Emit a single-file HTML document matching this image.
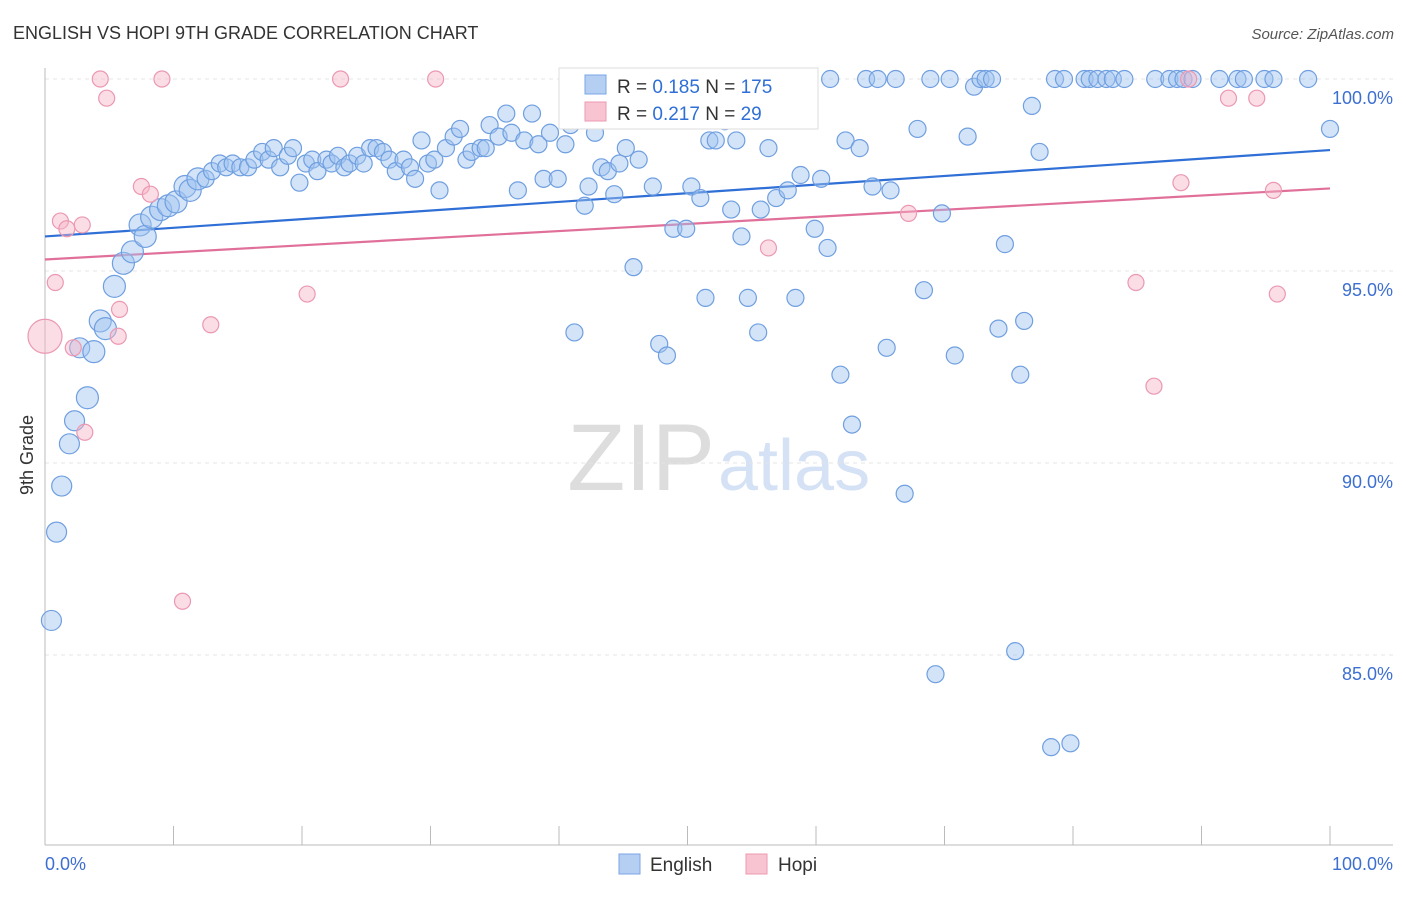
<!DOCTYPE html>
<html><head><meta charset="utf-8"><style>
body{margin:0;background:#fff;font-family:"Liberation Sans",sans-serif;}
svg text{font-family:"Liberation Sans",sans-serif;}
</style></head><body>
<svg id="chart" width="1406" height="892" xmlns="http://www.w3.org/2000/svg">
<text x="13" y="39" font-size="18" fill="#333">ENGLISH VS HOPI 9TH GRADE CORRELATION CHART</text>
<text x="1394" y="39" font-size="15" fill="#555" text-anchor="end" font-style="italic">Source: ZipAtlas.com</text>
<text x="715" y="490" font-size="95" fill="#ddd" text-anchor="end" font-family="Liberation Serif">ZIP</text>
<text x="718" y="490" font-size="72" fill="#d5e2f5">atlas</text>
<g id="grid"></g><g id="axes"></g><g id="lines"></g><g id="pts"></g>
<text transform="translate(33,455) rotate(-90)" font-size="18" fill="#333" text-anchor="middle">9th Grade</text>
<g>
<rect x="559" y="68" width="259" height="61" fill="#fff" stroke="#ddd"/>
<rect x="585" y="75" width="21" height="19" fill="#b5cff3" stroke="#7aa6e4"/>
<text x="617" y="93" font-size="19" fill="#333">R = <tspan fill="#2f6fd6">0.185</tspan>   N = <tspan fill="#2f6fd6">175</tspan></text>
<rect x="585" y="102" width="21" height="19" fill="#f8c4d2" stroke="#eb98b2"/>
<text x="617" y="120" font-size="19" fill="#333">R = <tspan fill="#2f6fd6">0.217</tspan>   N =   <tspan fill="#2f6fd6">29</tspan></text>
</g>
<g>
<rect x="619" y="854" width="21" height="20" fill="#b5cff3" stroke="#7aa6e4"/>
<text x="650" y="871" font-size="19" fill="#333">English</text>
<rect x="746" y="854" width="21" height="20" fill="#f8c4d2" stroke="#eb98b2"/>
<text x="778" y="871" font-size="19" fill="#333">Hopi</text>
</g>
</svg>
<script>
const yTicks=[100,95,90,85];
const yTickLabels=["100.0%","95.0%","90.0%","85.0%"];
const xTickLabels=["0.0%","100.0%"];
const blueX=[0.5,0.9,1.3,1.9,2.3,3.3,2.7,3.8,4.3,4.7,5.4,6.1,6.8,7.4,7.8,8.3,9.0,9.6,10.2,10.9,11.3,11.9,12.5,13.0,13.6,14.1,14.6,15.2,15.8,16.3,16.9,17.4,17.8,18.3,18.9,19.3,19.8,20.3,20.8,21.2,21.9,22.3,22.8,23.3,23.7,24.3,24.8,25.3,25.8,26.3,26.8,27.3,27.9,28.4,28.8,29.3,29.8,30.3,30.7,31.2,31.8,32.3,32.8,33.2,33.9,34.3,34.6,35.3,35.9,36.3,36.8,37.3,37.9,38.4,38.8,39.3,39.9,40.5,40.9,41.2,42.0,42.3,42.8,43.3,43.8,44.3,44.7,45.2,45.8,46.2,46.8,47.3,47.8,48.4,48.9,49.9,50.3,51.0,51.4,51.7,52.2,52.9,53.4,53.8,54.2,54.7,55.1,55.5,55.7,56.3,56.9,57.8,58.4,58.8,59.2,59.9,60.4,60.9,61.1,61.9,62.3,62.8,63.4,63.9,64.4,64.8,65.5,65.8,66.2,66.9,67.9,68.4,68.9,69.3,69.8,70.4,70.8,71.8,72.3,72.8,73.2,73.7,74.2,74.7,75.5,75.9,76.2,76.8,77.4,78.3,78.6,79.3,79.8,80.9,81.3,81.9,82.6,83.1,84.0,86.4,87.5,88.1,88.6,89.3,91.4,92.8,93.3,94.9,95.6,98.3,100];
const blueY=[85.9,88.2,89.4,90.5,91.1,91.7,93.0,92.9,93.7,93.5,94.6,95.2,95.5,96.2,95.9,96.4,96.6,96.7,96.8,97.2,97.1,97.4,97.4,97.6,97.8,97.7,97.8,97.7,97.7,97.9,98.1,97.9,98.2,97.7,98.0,98.2,97.3,97.8,97.9,97.6,97.9,97.8,98.0,97.7,97.8,98.0,97.8,98.2,98.2,98.1,97.9,97.6,97.9,97.7,97.4,98.4,97.8,97.9,97.1,98.2,98.5,98.7,97.9,98.1,98.2,98.2,98.8,98.5,99.1,98.6,97.1,98.4,99.1,98.3,97.4,98.6,97.4,98.3,98.8,93.4,96.7,97.2,98.6,97.7,97.6,97.0,97.8,98.2,95.1,97.9,99.5,97.2,93.1,92.8,96.1,96.1,97.2,96.9,94.3,98.4,98.4,98.9,96.6,98.4,95.9,94.3,99.7,93.4,96.6,98.2,96.9,97.1,94.3,97.5,99.8,96.1,97.4,95.6,100,92.3,98.4,91.0,98.2,100,97.2,100,93.0,97.1,100,89.2,98.7,94.5,100,84.5,96.5,100,92.8,98.5,99.8,100,100,100,93.5,95.7,85.1,92.3,93.7,99.3,98.1,82.6,100,100,82.7,100,100,100,100,100,100,100,100,100,100,100,100,100,100,100,100,100,98.7];
const pinkX=[0,0.8,1.2,1.7,2.2,2.9,3.1,4.3,4.8,5.8,5.7,7.5,8.2,9.1,10.7,12.9,20.4,23.0,30.4,56.3,67.2,84.9,86.3,88.4,89.0,92.1,94.3,95.6,95.9];
const pinkY=[93.3,94.7,96.3,96.1,93.0,96.2,90.8,100,99.5,94.0,93.3,97.2,97.0,100,86.4,93.6,94.4,100,100,95.6,96.5,94.7,92.0,97.3,100,99.5,99.5,97.1,94.4];
const blueTrend=[95.9,98.15];
const pinkTrend=[95.3,97.15];
const NS="http://www.w3.org/2000/svg";
const X=v=>45+v*12.85, Y=v=>79+(100-v)*38.4;
function mk(tag,attrs,parent){const e=document.createElementNS(NS,tag);for(const k in attrs)e.setAttribute(k,attrs[k]);document.getElementById(parent).appendChild(e);return e;}
yTicks.forEach((t,i)=>{
 const g=mk('line',{x1:45,x2:1393,y1:Y(t),y2:Y(t),stroke:'#e4e4e4','stroke-dasharray':'4,4'},'grid');
 
 
 const tx=mk('text',{x:1393,y:Y(t)+25,'font-size':18,fill:'#3d6fd0','text-anchor':'end'},'axes');
 tx.textContent=yTickLabels[i];
 
 
});
const ax=mk('line',{x1:45,x2:45,y1:68,y2:845,stroke:'#bbb'},'axes');


const bx=mk('line',{x1:45,x2:1393,y1:845,y2:845,stroke:'#bbb'},'axes');


for(let i=0;i<=10;i++){const t=mk('line',{x1:X(i*10),x2:X(i*10),y1:826,y2:845,stroke:'#bbb'},'axes');
 
 }
[[0,'start',45],[100,'end',1393]].forEach((a,i)=>{const t=mk('text',{x:a[2],y:870,'font-size':18,fill:'#3d6fd0','text-anchor':a[1]},'axes');t.textContent=xTickLabels[i];
 
 });
blueX.forEach((x,i)=>{const r=x<12?(x<3?10:11):8.5;
 const c=mk('circle',{cx:X(x),cy:Y(blueY[i]),r:r,fill:'rgba(160,195,240,0.45)',stroke:'#6f9fe0','stroke-width':1.2},'pts');
 
 });
pinkX.forEach((x,i)=>{const r=i===0?17:8;
 const c=mk('circle',{cx:X(x),cy:Y(pinkY[i]),r:r,fill:'rgba(246,180,200,0.45)',stroke:'#eb98b2','stroke-width':1.2},'pts');
 
 });
const bl=mk('line',{x1:X(0),x2:X(100),y1:Y(blueTrend[0]),y2:Y(blueTrend[1]),stroke:'#2f6fd6','stroke-width':2.2},'lines');


const pl=mk('line',{x1:X(0),x2:X(100),y1:Y(pinkTrend[0]),y2:Y(pinkTrend[1]),stroke:'#e0709a','stroke-width':2.2},'lines');


</script>
</body></html>
